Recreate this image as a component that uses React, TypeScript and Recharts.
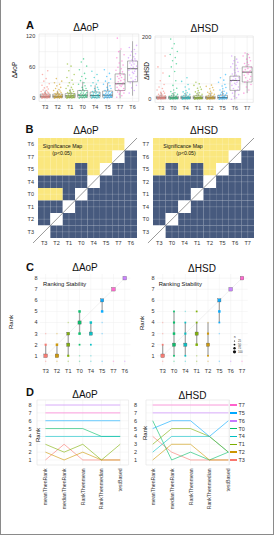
import React from 'react';
import {
  ScatterChart, Scatter, LineChart, Line, XAxis, YAxis, CartesianGrid, ReferenceArea, ReferenceLine,
} from 'recharts';

const FONT = '"Liberation Sans", Arial, Helvetica, sans-serif';
const INK = '#333';

const tColors: Record<string, string> = {
  T0: '#00BE67', T1: '#7CAE00', T2: '#CD9600', T3: '#F8766D',
  T4: '#00BFC4', T5: '#00A9FF', T6: '#C77CFF', T7: '#FF61CC',
};

// ---- A: per-animal values ----
const aopGroups = ['T3', 'T2', 'T1', 'T0', 'T4', 'T5', 'T7', 'T6'];
const hsdGroups = ['T3', 'T0', 'T4', 'T1', 'T2', 'T5', 'T6', 'T7'];

const aopValues = [
  [0, 0, 1, 1, 1, 2, 2, 2, 3, 3, 3, 4, 4, 4, 5, 5, 6, 6, 7, 7, 8, 9, 10, 11, 12, 13, 15, 16, 18, 20, 22, 25, 28, 33, 38, 46, 53],
  [0, 0, 1, 1, 1, 2, 2, 2, 3, 3, 3, 4, 4, 5, 5, 6, 6, 7, 8, 8, 9, 10, 11, 12, 14, 15, 17, 19, 21, 24, 27, 30, 33, 38],
  [0, 0, 1, 1, 1, 2, 2, 3, 3, 3, 4, 4, 5, 5, 6, 6, 7, 8, 9, 10, 11, 12, 13, 15, 17, 19, 21, 24, 27, 30, 35, 40, 46, 53, 62, 66],
  [0, 1, 1, 2, 2, 3, 3, 4, 4, 5, 5, 6, 6, 7, 8, 9, 10, 11, 12, 14, 15, 17, 19, 21, 24, 27, 30, 34, 38, 42, 48, 55, 62, 70, 76],
  [0, 0, 1, 1, 2, 2, 3, 3, 4, 4, 5, 5, 6, 6, 7, 8, 9, 10, 11, 12, 13, 15, 17, 19, 21, 24, 27, 30, 34, 40, 46, 52],
  [0, 1, 1, 2, 2, 3, 3, 4, 4, 5, 5, 6, 7, 7, 8, 9, 10, 11, 12, 13, 15, 17, 19, 21, 24, 27, 30, 33, 37, 42, 48, 55],
  [2, 5, 8, 10, 12, 14, 15, 17, 19, 21, 23, 25, 26, 28, 30, 32, 34, 36, 38, 40, 42, 44, 46, 48, 51, 54, 57, 60, 64, 68, 72, 78, 84, 90, 95, 116],
  [10, 15, 20, 25, 30, 33, 36, 39, 42, 45, 48, 50, 52, 54, 56, 58, 60, 62, 64, 66, 68, 70, 72, 74, 76, 78, 80, 83, 86, 90, 94, 98, 102],
];
// [low whisker, q1, median, q3, high whisker]
const aopBoxes = [
  [0, 1.5, 4, 8, 15], [0, 1.5, 4, 8, 15], [0, 1.5, 4.5, 9, 18], [0, 2, 6, 15, 32],
  [0, 2, 5.5, 12, 25], [0, 2, 6, 14, 30], [0, 15, 28, 47, 93], [5, 32, 57, 72, 110],
];

const hsdValues = [
  [0, 1, 1, 2, 2, 3, 3, 4, 4, 5, 5, 6, 6, 7, 8, 9, 10, 11, 12, 14, 16, 18, 20, 23, 26, 30, 35, 40, 48, 60, 85, 105, 140],
  [0, 1, 1, 2, 2, 3, 3, 4, 4, 5, 6, 7, 8, 9, 10, 12, 14, 16, 18, 21, 25, 30, 36, 45, 60, 75, 90, 105, 115, 125, 135, 145, 155, 165, 180, 195],
  [0, 1, 1, 2, 2, 3, 3, 4, 5, 5, 6, 7, 8, 9, 10, 12, 14, 16, 18, 21, 24, 28, 33, 40, 48, 58, 70],
  [0, 1, 1, 2, 2, 3, 3, 4, 4, 5, 6, 7, 8, 9, 10, 12, 14, 16, 18, 21, 24, 28, 32, 36, 40, 45, 50, 55],
  [0, 1, 1, 2, 2, 3, 3, 4, 4, 5, 6, 7, 8, 9, 10, 12, 14, 16, 18, 20, 23, 26, 30, 34, 38, 42, 46],
  [0, 1, 1, 2, 2, 3, 4, 5, 6, 7, 8, 9, 10, 12, 14, 16, 18, 20, 23, 26, 30, 34, 38, 43, 48, 55, 62, 70, 80],
  [0, 5, 10, 15, 20, 25, 30, 35, 40, 45, 48, 52, 55, 58, 60, 63, 66, 70, 74, 78, 82, 86, 90, 95, 100, 105, 110, 115, 120, 125, 130, 140],
  [20, 30, 40, 48, 55, 60, 65, 70, 74, 78, 82, 86, 88, 90, 93, 96, 100, 104, 108, 112, 116, 120, 125, 130, 135, 140, 145, 150],
];
const hsdBoxes = [
  [0, 2, 5, 10, 22], [0, 2, 5, 10, 22], [0, 2, 5, 10, 22], [0, 2, 5, 11, 24],
  [0, 2, 5, 10, 22], [0, 2, 6, 13, 28], [0, 29, 61, 75, 140], [20, 56, 88, 105, 150],
];

// ---- B: significance maps, top row first (Y = p<0.05, B = not, W = same group) ----
const aopSig = ['YYYYYYYW', 'YYYYYYWB', 'YYYBYWBB', 'BBBBWBBB', 'YYBWBBBB', 'BBWBBBBB', 'BWBBBBBB', 'WBBBBBBB'];
const hsdSig = ['YYYYYYYW', 'YYYYYYWB', 'YBYBYWBB', 'BBBBWBBB', 'BBBWBBBB', 'BBWBBBBB', 'BWBBBBBB', 'WBBBBBBB'];

// ---- C: rank frequencies [rank, weight] and rank ranges ----
const aopRankFreq = [
  [[0.5, 1], [1, 4], [2, 2], [3, 1]],
  [[0.5, 1], [1, 4], [2, 2.5], [3, 1]],
  [[0.5, 1], [1, 2], [2, 3.5], [3, 3], [4, 1]],
  [[0.5, 1], [1, 1], [2, 1.5], [3, 2.5], [4, 3.5], [5, 2.5]],
  [[0.5, 1], [1, 1], [2, 1.5], [3, 3.5], [4, 2.5]],
  [[0.5, 1], [3, 1], [4, 1], [5, 2.5], [6, 3.5]],
  [[0.5, 1], [7, 4]],
  [[0.5, 1], [8, 4]],
];
const aopRankRange = [[1, 2], [1, 2], [1, 3], [3, 5], [3, 4], [5, 6], [7, 7], [8, 8]];
const hsdRankFreq = [
  [[0.5, 1], [1, 4], [2, 1.5], [3, 1], [4, 1]],
  [[0.5, 1], [1, 1.5], [2, 3.5], [3, 2.5], [4, 2], [5, 1.5]],
  [[0.5, 1], [1, 1.5], [2, 3.5], [3, 2], [4, 1.5], [5, 1]],
  [[0.5, 1], [1, 1], [2, 2.5], [3, 3.5], [4, 1.5], [5, 1.5]],
  [[0.5, 1], [1, 1.5], [2, 3.5], [3, 2], [4, 1]],
  [[0.5, 1], [3, 1], [4, 1.5], [5, 2.5], [6, 3.5]],
  [[0.5, 1], [7, 4]],
  [[0.5, 1], [8, 4]],
];
const hsdRankRange = [[1, 2], [1, 5], [1, 4], [2, 4], [1, 4], [4, 6], [7, 7], [8, 8]];

// ---- D: rank by aggregation method ----
const methods = ['meanThenRank', 'medianThenRank', 'RankThenmean', 'RankThenmedian', 'testBased'];
const aopMethodRanks = [
  [1, 3, 1, 1, 1], [2, 1, 2, 1, 1], [3, 2, 3, 1, 3], [5, 5, 5, 4, 4],
  [4, 4, 4, 4, 4], [6, 6, 6, 6, 6], [7, 7, 7, 7, 7], [8, 8, 8, 8, 8],
];
const hsdMethodRanks = [
  [4, 2, 1, 1, 1], [6, 1, 2, 1, 2], [2, 4, 4, 4, 2], [3, 5, 5, 4, 2],
  [1, 3, 3, 1, 1], [5, 6, 6, 4, 6], [7, 7, 7, 7, 7], [8, 8, 8, 8, 8],
];
const hsdLegend = ['T7', 'T5', 'T6', 'T0', 'T4', 'T1', 'T2', 'T3'];

const eight = [1, 2, 3, 4, 5, 6, 7, 8];
const jitter = [-0.27, 0.14, -0.06, 0.31, -0.19, 0.04, 0.22, -0.12, 0.29, -0.24, 0.09, -0.01, 0.17, -0.3, 0.25, -0.15, 0.06, 0.33, -0.09, 0.12, -0.21, 0.02, 0.27, -0.04, 0.19, -0.33, 0.1, -0.17, 0.24, -0.07, 0.15, -0.26, 0.32, -0.11, 0.07, -0.22, 0.2];
const tickStyle = { fontSize: 5.5, fill: INK, fontFamily: FONT };

const Label = ({ x, y, size = 5.5, bold, rotate, left, children }: any) => (
  <div
    style={{
      position: 'absolute', left: x, top: y, fontSize: size, fontWeight: bold ? 700 : 400, color: '#111',
      lineHeight: 1, whiteSpace: 'nowrap',
      transform: `translate(${left ? '0' : '-50%'}, -50%)${rotate ? ' rotate(-90deg)' : ''}`,
    }}
  >
    {children}
  </div>
);

const PAD_L = 40;
const PAD_T = 4;
const PAD_R = 2;

const Frame = ({ x, y, w, h, padB = 20, children }: any) => (
  <div style={{ position: 'absolute', left: x - PAD_L, top: y - PAD_T }}>{children(w + PAD_L + PAD_R, h + PAD_T + padB, padB)}</div>
);

function JitterPanel({ x, y, w, h, groups, values, boxes, domain, ticks, grid }: any) {
  return (
    <Frame x={x} y={y} w={w} h={h}>
      {(cw: number, ch: number, padB: number) => (
        <ScatterChart width={cw} height={ch} margin={{ top: PAD_T, right: PAD_R, left: 0, bottom: 0 }}>
          <CartesianGrid stroke="#ebebeb" strokeWidth={0.5} horizontalValues={grid} verticalValues={eight} />
          <XAxis type="number" dataKey="x" domain={[0.5, 8.5]} ticks={eight} interval={0} allowDataOverflow
            tickFormatter={(v: number) => groups[v - 1]} height={padB} axisLine={false} tickLine={false}
            tickSize={2} tickMargin={1.5} tick={tickStyle} />
          <YAxis type="number" dataKey="y" domain={domain} ticks={ticks} interval={0} allowDataOverflow width={PAD_L}
            axisLine={false} tickLine={false} tickSize={2} tickMargin={1.8} tick={tickStyle} />
          <ReferenceArea x1={0.5} x2={8.5} y1={domain[0]} y2={domain[1]} fill="none" stroke="#dedede" strokeWidth={0.6} />
          {groups.map((g: string, i: number) => (
            <Scatter key={g} data={values[i].map((v: number, k: number) => ({ x: i + 1 + jitter[k % jitter.length], y: v }))}
              fill={tColors[g]} isAnimationActive={false}
              shape={(p: any) => <circle cx={p.cx} cy={p.cy} r={0.8} fill={tColors[g]} fillOpacity={0.55} />} />
          ))}
          {boxes.map((b: number[], i: number) => (
            <ReferenceArea key={'b' + i} x1={i + 0.6} x2={i + 1.4} y1={b[1]} y2={b[3]} fill="#fff" fillOpacity={0.3}
              stroke="#666" strokeWidth={0.5} />
          ))}
          {boxes.map((b: number[], i: number) => (
            <ReferenceLine key={'m' + i} segment={[{ x: i + 0.6, y: b[2] }, { x: i + 1.4, y: b[2] }]} stroke="#444" strokeWidth={0.8} />
          ))}
          {boxes.map((b: number[], i: number) => (
            <ReferenceLine key={'u' + i} segment={[{ x: i + 1, y: b[3] }, { x: i + 1, y: b[4] }]} stroke="#666" strokeWidth={0.5} />
          ))}
          {boxes.map((b: number[], i: number) => (
            <ReferenceLine key={'l' + i} segment={[{ x: i + 1, y: b[0] }, { x: i + 1, y: b[1] }]} stroke="#666" strokeWidth={0.5} />
          ))}
        </ScatterChart>
      )}
    </Frame>
  );
}

const sigFill: Record<string, string> = { Y: '#FAE77E', B: '#475A7E', W: '#ffffff' };

function SigPanel({ x, y, w, h, groups, rows }: any) {
  const centers = eight.map((v) => ({ x: v, y: v }));
  return (
    <Frame x={x} y={y} w={w} h={h}>
      {(cw: number, ch: number, padB: number) => (
        <ScatterChart width={cw} height={ch} margin={{ top: PAD_T, right: PAD_R, left: 0, bottom: 0 }}>
          <XAxis type="number" dataKey="x" domain={[0.5, 8.5]} ticks={eight} interval={0} allowDataOverflow
            tickFormatter={(v: number) => groups[v - 1]} height={padB} axisLine={false} tickLine={false}
            tickSize={2} tickMargin={1.3} tick={tickStyle} />
          <YAxis type="number" dataKey="y" domain={[0.5, 8.5]} ticks={eight} interval={0} allowDataOverflow width={PAD_L}
            tickFormatter={(v: number) => groups[v - 1]} axisLine={false} tickLine={false}
            tickSize={2} tickMargin={2} tick={tickStyle} />
          {rows.map((row: string, r: number) =>
            row.split('').map((c, k) => (
              <ReferenceArea key={r + '-' + k} x1={k + 0.5} x2={k + 1.5} y1={8 - r - 0.5} y2={8 - r + 0.5}
                fill={sigFill[c]} fillOpacity={1} stroke="none" />
            )),
          )}
          {eight.map((v) => (
            <ReferenceLine key={'gx' + v} x={v} stroke="#fff" strokeOpacity={0.3} strokeWidth={0.6} />
          ))}
          {eight.map((v) => (
            <ReferenceLine key={'gy' + v} y={v} stroke="#fff" strokeOpacity={0.3} strokeWidth={0.6} />
          ))}
          <ReferenceLine segment={[{ x: 0.1, y: 0.1 }, { x: 8.5, y: 8.5 }]} stroke="#333" strokeWidth={0.5} ifOverflow="visible" />
          <Scatter data={centers} isAnimationActive={false} shape={() => <g />} />
        </ScatterChart>
      )}
    </Frame>
  );
}

function RankPanel({ x, y, w, h, groups, freqs, ranges }: any) {
  const side = (wt: number) => 0.6 + wt * 0.75;
  return (
    <Frame x={x} y={y} w={w} h={h}>
      {(cw: number, ch: number, padB: number) => (
        <ScatterChart width={cw} height={ch} margin={{ top: PAD_T, right: PAD_R, left: 0, bottom: 0 }}>
          <CartesianGrid stroke="#efefef" strokeWidth={0.5} horizontalValues={eight} verticalValues={eight} />
          <XAxis type="number" dataKey="x" domain={[0.5, 8.5]} ticks={eight} interval={0} allowDataOverflow
            tickFormatter={(v: number) => groups[v - 1]} height={padB} axisLine={false} tickLine={false}
            tickSize={2} tickMargin={1.3} tick={tickStyle} />
          <YAxis type="number" dataKey="y" domain={[0.125, 8.375]} ticks={eight} interval={0} allowDataOverflow width={PAD_L}
            axisLine={false} tickLine={false} tickSize={1} tickMargin={1.5} tick={tickStyle} />
          <ReferenceLine segment={[{ x: 1, y: 1 }, { x: 8, y: 8 }]} stroke="#e2e2e2" strokeWidth={0.5} />
          {ranges.map((r: number[], i: number) =>
            r[0] < r[1] ? (
              <ReferenceLine key={'r' + i} segment={[{ x: i + 1, y: r[0] }, { x: i + 1, y: r[1] }]} stroke="#a8a8a8" strokeWidth={1.3} />
            ) : null,
          )}
          {groups.map((g: string, i: number) => (
            <Scatter key={g} data={freqs[i].map((f: number[]) => ({ x: i + 1, y: f[0], wt: f[1] }))} isAnimationActive={false}
              shape={(p: any) => {
                const s = side(p.payload.wt);
                return (
                  <rect x={p.cx - s / 2} y={p.cy - s / 2} width={s} height={s} fill={tColors[g]}
                    fillOpacity={p.payload.wt <= 1 ? 0.35 : 0.95} stroke={p.payload.wt >= 3 ? '#555' : 'none'} strokeWidth={0.3} />
                );
              }} />
          ))}
        </ScatterChart>
      )}
    </Frame>
  );
}

const MethodTick = (props: any) => {
  const { x, y, payload } = props;
  return (
    <text x={x} y={y} transform={`rotate(-90 ${x} ${y})`} textAnchor="end" dominantBaseline="central"
      fontSize={5.2} fill={INK} fontFamily={FONT}>
      {methods[payload.value - 1]}
    </text>
  );
};

function MethodPanel({ x, y, w, h, groups, ranks, xDomain, gap }: any) {
  const data = methods.map((m, k) => {
    const row: any = { k: k + 1, name: m };
    groups.forEach((g: string, i: number) => { row[g] = ranks[i][k]; });
    return row;
  });
  return (
    <Frame x={x} y={y} w={w} h={h} padB={50}>
      {(cw: number, ch: number, padB: number) => (
        <LineChart width={cw} height={ch} data={data} margin={{ top: PAD_T, right: PAD_R, left: 0, bottom: 0 }}>
          <CartesianGrid stroke="#efefef" strokeWidth={0.5} horizontalValues={eight} verticalValues={[1, 2, 3, 4, 5]} />
          <XAxis type="number" dataKey="k" domain={xDomain} ticks={[1, 2, 3, 4, 5]} interval={0} allowDataOverflow
            height={padB} axisLine={false} tickLine={false} tickSize={2} tickMargin={1.3} tick={<MethodTick />} />
          <YAxis type="number" domain={[0.36, 8.64]} ticks={eight} interval={0} allowDataOverflow width={PAD_L}
            axisLine={false} tickLine={false} tickSize={2} tickMargin={gap} tick={tickStyle} />
          <ReferenceArea x1={xDomain[0]} x2={xDomain[1]} y1={0.36} y2={8.64} fill="none" stroke="#e2e2e2" strokeWidth={0.6} />
          {groups.map((g: string) => (
            <Line key={g} dataKey={g} stroke={tColors[g]} strokeOpacity={0.6} strokeWidth={1} dot={false} isAnimationActive={false} />
          ))}
        </LineChart>
      )}
    </Frame>
  );
}

export default function App() {
  return (
    <div style={{ position: 'absolute', left: 0, top: 0, width: 277, height: 537, background: '#fff', fontFamily: FONT, overflow: 'hidden' }}>
      <div style={{ position: 'absolute', left: 0, top: -2, width: 272, height: 536, borderLeft: '1px solid #8a8a8a', borderRight: '1px solid #8a8a8a', borderBottom: '1px solid #8a8a8a' }} />

      {/* A */}
      <Label x={30} y={25} size={11} bold>A</Label>
      <Label x={86} y={27.5} size={10}>ΔAoP</Label>
      <Label x={204.5} y={28.5} size={10}>ΔHSD</Label>
      <Label x={15} y={69.5} size={6.5} rotate>ΔAoP</Label>
      <Label x={146.5} y={70.5} size={6.5} rotate>ΔHSD</Label>
      <JitterPanel x={38.8} y={34} w={99.8} h={67.4} groups={aopGroups} values={aopValues} boxes={aopBoxes}
        domain={[-6, 124]} ticks={[0, 60, 120]} grid={[0, 30, 60, 90, 120]} />
      <JitterPanel x={154.9} y={35.7} w={98.3} h={66.4} groups={hsdGroups} values={hsdValues} boxes={hsdBoxes}
        domain={[-10, 205]} ticks={[0, 200]} grid={[0, 50, 100, 150, 200]} />

      {/* B */}
      <Label x={29.5} y={129} size={11} bold>B</Label>
      <Label x={86} y={131} size={10}>ΔAoP</Label>
      <Label x={204} y={131} size={10}>ΔHSD</Label>
      <SigPanel x={38} y={138} w={99} h={100} groups={aopGroups} rows={aopSig} />
      <SigPanel x={153} y={138} w={101} h={100} groups={hsdGroups} rows={hsdSig} />
      <Label x={62.5} y={146.7} size={5.2}>Significance Map</Label>
      <Label x={62} y={153.7} size={5.2}>(p&lt;0.05)</Label>
      <Label x={183} y={146.7} size={5.2}>Significance Map</Label>
      <Label x={186} y={153.7} size={5.2}>(p&lt;0.05)</Label>

      {/* C */}
      <Label x={30} y={266.5} size={11} bold>C</Label>
      <Label x={85} y={267.5} size={10}>ΔAoP</Label>
      <Label x={202} y={269} size={10}>ΔHSD</Label>
      <Label x={11} y={322} size={6} rotate>Rank</Label>
      <Label x={142} y={323} size={6} rotate>Rank</Label>
      <RankPanel x={40} y={273.5} w={90.4} h={91.5} groups={aopGroups} freqs={aopRankFreq} ranges={aopRankRange} />
      <RankPanel x={157} y={273.5} w={90.7} h={91.5} groups={hsdGroups} freqs={hsdRankFreq} ranges={hsdRankRange} />
      <Label x={43} y={285} size={5.8} left>Ranking Stability</Label>
      <Label x={158.7} y={285} size={5.8} left>Ranking Stability</Label>
      <svg style={{ position: 'absolute', left: 228, top: 334 }} width={20} height={22}>
        <text x={6} y={3.5} fontSize={3} fill={INK} fontFamily={FONT}>n</text>
        {[0.6, 0.9, 1.2, 1.6].map((r, i) => (
          <g key={i}>
            <circle cx={6.5} cy={7 + i * 3.6} r={r} fill="#111" />
            <text x={10} y={8 + i * 3.6} fontSize={2.8} fill={INK} fontFamily={FONT}>{(i + 1) * 25}</text>
          </g>
        ))}
      </svg>

      {/* D */}
      <Label x={30} y={391.5} size={11} bold>D</Label>
      <Label x={85} y={394.5} size={10}>ΔAoP</Label>
      <Label x={192.5} y={396} size={10}>ΔHSD</Label>
      <MethodPanel x={36.7} y={400} w={91.6} h={65} groups={aopGroups} ranks={aopMethodRanks} xDomain={[0.55, 5.45]} gap={3.5} />
      <MethodPanel x={146} y={400} w={83.5} h={65} groups={hsdGroups} ranks={hsdMethodRanks} xDomain={[0.645, 5.06]} gap={7} />
      <Label x={38} y={435} size={6} rotate>Rank</Label>
      <Label x={145} y={433} size={6} rotate>Rank</Label>
      {hsdLegend.map((g, i) => (
        <div key={g} style={{ position: 'absolute', left: 230, top: 405 + i * 7.857 - 3, height: 6 }}>
          <div style={{ position: 'absolute', left: 0, top: 2.3, width: 7, height: 1.5, background: tColors[g] }} />
          <div style={{ position: 'absolute', left: 8.5, top: 0, fontSize: 5.5, lineHeight: '6px', color: INK }}>{g}</div>
        </div>
      ))}
    </div>
  );
}
